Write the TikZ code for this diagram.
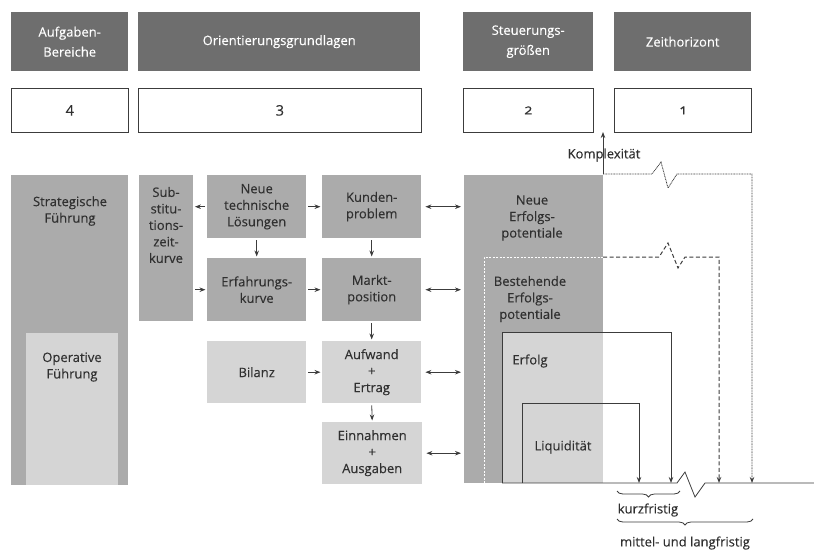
\documentclass[tikz,border=0pt]{standalone}
\usepackage{fontspec}
\setmainfont{Open Sans}[Numbers=OldStyle, FakeBold=0.25]
\usetikzlibrary{arrows.meta,decorations.pathreplacing}

\definecolor{hdrgray}{HTML}{6E6E6E}
\definecolor{midgray}{HTML}{ABABAB}
\definecolor{pale}{HTML}{D5D5D5}
\definecolor{ink}{HTML}{303030}
\definecolor{linegray}{HTML}{3C3C3C}

\tikzset{
  base/.style={inner sep=0pt, anchor=north west, align=center, text=ink,
               font=\fontsize{13}{16.5}\selectfont},
  hdr/.style={base, fill=hdrgray, text=white, font=\fontsize{13}{20}\selectfont},
  numbox/.style={base, draw=linegray, line width=0.8pt, fill=white,
                 font=\fontsize{14.5}{16}\selectfont},
  midbox/.style={base, fill=midgray},
  litebox/.style={base, fill=pale},
  lbl/.style={inner sep=0pt, align=center, text=ink, font=\fontsize{13}{16.5}\selectfont},
  tip/.tip={Stealth[length=6pt,width=4.5pt]},
  conn/.style={draw=linegray, line width=0.8pt, -tip, shorten <=2pt, shorten >=1.5pt},
  dbl/.style={draw=linegray, line width=0.8pt, tip-tip, shorten <=4pt, shorten >=3pt},
  track/.style={draw=linegray, line width=0.8pt},
  bracestyle/.style={draw=linegray, line width=0.8pt, decorate,
                     decoration={brace, mirror, amplitude=6pt}},
}

\begin{document}
\begin{tikzpicture}[x=1pt, y=-1pt]
\useasboundingbox (0,0) rectangle (814,552);

% column headings
\node[hdr, minimum width=117pt, minimum height=59pt] (h4) at (11,12) {Aufgaben-\\Bereiche};
\node[hdr, minimum width=282pt, minimum height=59pt] (h3) at (138,12) {Orientierungsgrundlagen};
\node[hdr, minimum width=130pt, minimum height=59pt] (h2) at (463,12) {Steuerungs-\\größen};
\node[hdr, minimum width=137pt, minimum height=59pt] (h1) at (614,12) {Zeithorizont};

% numbered columns
\node[numbox, minimum width=117pt, minimum height=44pt] (n4) at (11,88) {4};
\node[numbox, minimum width=283pt, minimum height=44pt] (n3) at (138,88) {3};
\node[numbox, minimum width=130pt, minimum height=44pt] (n2) at (463,88) {2};
\node[numbox, minimum width=137pt, minimum height=44pt] (n1) at (614,88) {1};

% task areas
\node[midbox, minimum width=117pt, minimum height=310pt] (strat) at (11,175) {};
\node[litebox, minimum width=92pt, minimum height=152pt] (oper) at (26,333) {};
\node[lbl] (stratlbl) at (70,211) {Strategische\\Führung};
\node[lbl] (operlbl) at (72,367) {Operative\\Führung};

% orientation basis
\node[midbox, minimum width=54pt, minimum height=146pt] (sub) at (139,175) {};
\node[lbl] (sublbl) at (166,225) {Sub-\\stitu-\\tions-\\zeit-\\kurve};
\node[midbox, minimum width=99pt, minimum height=63pt] (neue) at (207,175) {Neue\\technische\\Lösungen};
\node[midbox, minimum width=99pt, minimum height=63pt] (kunden) at (322,175) {Kunden-\\problem};
\node[midbox, minimum width=99pt, minimum height=63pt] (erf) at (207,258) {Erfahrungs-\\kurve};
\node[midbox, minimum width=99pt, minimum height=63pt] (markt) at (322,258) {Markt-\\position};
\node[litebox, minimum width=99pt, minimum height=62pt] (bilanz) at (207,341) {Bilanz};
\node[litebox, minimum width=99pt, minimum height=62pt] (aufw) at (322,341) {Aufwand\\+\\Ertrag};
\node[litebox, minimum width=100pt, minimum height=62pt] (einn) at (322,422) {Einnahmen\\+\\Ausgaben};

% control variables
\node[midbox, minimum width=139pt, minimum height=308pt] (nep) at (464,175) {};
\node[litebox, minimum width=101pt, minimum height=151pt] (erfolg) at (502,332) {};

% arrows between the orientation boxes
\draw[conn] (neue.west) -- (neue.west -| sub.east);
\draw[conn] (neue.east) -- (kunden.west);
\draw[conn] (neue.south) -- (erf.north);
\draw[conn] (sub.east |- erf.west) -- (erf.west);
\draw[conn] (erf.east) -- (markt.west);
\draw[conn] (kunden.south) -- (markt.north);
\draw[conn] (markt.south) -- (aufw.north);
\draw[conn] (bilanz.east) -- (aufw.west);
\draw[conn] (aufw.south) -- (einn.north);

% links to the control variables
\draw[dbl] (kunden.east) -- (kunden.east -| nep.west);
\draw[dbl] (markt.east) -- (markt.east -| nep.west);
\draw[dbl] (aufw.east) -- (aufw.east -| nep.west);
\draw[dbl] (einn.east) -- (einn.east -| nep.west);

% time axis
\coordinate (ax0) at (502,483);
\coordinate (axE) at (814,483);
\draw[track] (ax0) -- (677,483) -- (685,472) -- (695,497) -- (705,483) -- (axE);

% complexity arrow and long-term track
\coordinate (kx) at (603,174);
\coordinate (ktop) at (603,132);
\coordinate (lt) at (752,483);
\draw[track, -tip] (kx) -- (ktop);
\draw[track, dash pattern=on 0.9pt off 0.7pt, -tip] (kx) -- (652,174) -- (661,162) -- (668,188)
      -- (677,174) -- (752,174) -- (lt);
\node[lbl] (kompl) at (604,155) {Komplexität};

% existing success potentials
\coordinate (bp0) at (484,483);
\coordinate (bp1) at (484,257);
\coordinate (bp2) at (603,257);
\coordinate (mt) at (719,483);
\draw[white, line width=0.9pt, dash pattern=on 2pt off 1.5pt] (bp0) -- (bp1) -- (bp2);
\draw[track, line width=1pt, dash pattern=on 4pt off 2.5pt, -tip] (bp2) -- (659,257) -- (668,243)
      -- (678,268) -- (685,257) -- (719,257) -- (mt);

% success
\coordinate (ef1) at (502,332);
\coordinate (ef2) at (671,332);
\coordinate (ef3) at (671,483);
\draw[track, -tip] (ax0) -- (ef1) -- (ef2) -- (ef3);

% liquidity
\coordinate (lq0) at (522,483);
\coordinate (lq1) at (522,403);
\coordinate (lq2) at (639,403);
\coordinate (lq3) at (639,483);
\draw[track, -tip] (lq0) -- (lq1) -- (lq2) -- (lq3);

% labels of the control variables
\node[lbl] (neplbl) at (532,218) {Neue\\Erfolgs-\\potentiale};
\node[lbl] (beplbl) at (530,299) {Bestehende\\Erfolgs-\\potentiale};
\node[lbl] (erflbl) at (530,361) {Erfolg};
\node[lbl] (liqlbl) at (563,447) {Liquidität};

% horizons
\coordinate (kb1) at (617,491);
\coordinate (kb2) at (680,491);
\coordinate (mb1) at (617,519);
\coordinate (mb2) at (753,519);
\draw[bracestyle] (kb1) -- (kb2);
\draw[bracestyle] (mb1) -- (mb2);
\node[lbl] (kurz) at (648,510) {kurzfristig};
\node[lbl] (mittel) at (685,543) {mittel- und langfristig};

\end{tikzpicture}
\end{document}
